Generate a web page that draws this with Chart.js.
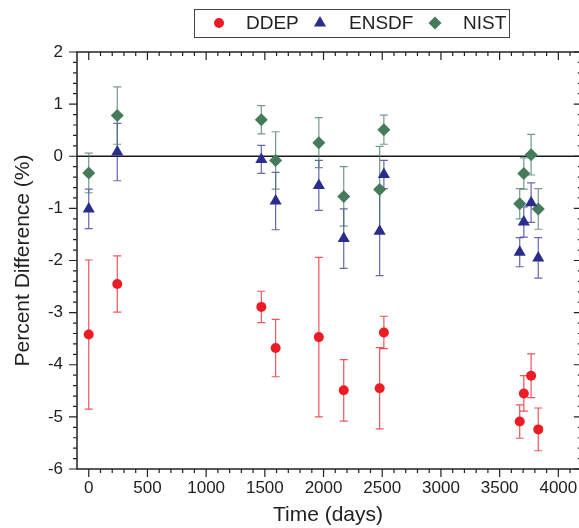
<!DOCTYPE html>
<html>
<head>
<meta charset="utf-8">
<script src="https://cdn.jsdelivr.net/npm/chart.js@4.4.1/dist/chart.umd.min.js"></script>
<style>
  html, body { margin: 0; padding: 0; background: #fff; overflow: hidden; }
  #contenedor { width: 579px; height: 528px; position: relative; }
</style>
</head>
<body>
<div id="contenedor"><canvas id="graficoDiferencia"></canvas></div>
<script>
// Datos
const dias = [0, 243, 1470, 1592, 1960, 2172, 2478, 2514, 3671, 3706, 3768, 3829];

const ddep = [-3.42, -2.45, -2.89, -3.68, -3.47, -4.49, -4.45, -3.38, -5.09, -4.55, -4.21, -5.24];
const ddepError = [1.43, 0.54, 0.30, 0.55, 1.53, 0.59, 0.78, 0.31, 0.32, 0.34, 0.42, 0.41];

const ensdf = [-1.01, 0.08, -0.06, -0.86, -0.56, -1.58, -1.44, -0.35, -1.84, -1.26, -0.89, -1.95];
const ensdfError = [0.38, 0.55, 0.27, 0.55, 0.48, 0.57, 0.85, 0.27, 0.28, 0.29, 0.38, 0.39];

const nist = [-0.32, 0.78, 0.70, -0.08, 0.26, -0.77, -0.64, 0.51, -0.91, -0.33, 0.03, -1.01];
const nistError = [0.38, 0.55, 0.27, 0.55, 0.48, 0.57, 0.83, 0.28, 0.29, 0.30, 0.39, 0.39];

const ticksX = [0, 500, 1000, 1500, 2000, 2500, 3000, 3500, 4000];
const ticksY = [-6, -5, -4, -3, -2, -1, 0, 1, 2];

// el eje x llega hasta 4200, pero la figura se corta un poco antes
const finEjeX = 4200;
const finVisibleX = 4176;

const fuente = "'Liberation Sans', Arial, sans-serif";
const colorEje = "#222222";

function puntos(valores) {
    return dias.map((d, i) => ({ x: d, y: valores[i] }));
}

// Ejes con marco, marcas menores, línea de cero, barras de error y leyenda con borde
const decoracion = {
    id: "decoracion",
    beforeDatasetsDraw(chart) {
        const { ctx, chartArea: a, scales: { x, y } } = chart;
        ctx.save();
        // línea de cero
        ctx.strokeStyle = "#1a1a1a";
        ctx.lineWidth = 1.5;
        const y0 = y.getPixelForValue(0);
        ctx.beginPath();
        ctx.moveTo(a.left, y0);
        ctx.lineTo(a.right, y0);
        ctx.stroke();

        // barras de error
        chart.data.datasets.forEach(ds => {
            ctx.strokeStyle = ds.colorError;
            ctx.lineWidth = 1.2;
            ds.data.forEach((p, j) => {
                const e = ds.errores[j];
                const px = x.getPixelForValue(p.x);
                const pt = y.getPixelForValue(p.y + e);
                const pb = y.getPixelForValue(p.y - e);
                ctx.beginPath();
                ctx.moveTo(px, pt);
                ctx.lineTo(px, pb);
                ctx.moveTo(px - 4, pt);
                ctx.lineTo(px + 4, pt);
                ctx.moveTo(px - 4, pb);
                ctx.lineTo(px + 4, pb);
                ctx.stroke();
            });
        });
        ctx.restore();
    },
    afterDraw(chart) {
        const { ctx, chartArea: a, scales: { x, y } } = chart;
        const derecha = x.getPixelForValue(finEjeX);
        ctx.save();
        ctx.strokeStyle = colorEje;
        ctx.lineWidth = 1.5;
        ctx.strokeRect(a.left, a.top, derecha - a.left, a.bottom - a.top);

        ctx.lineWidth = 1.2;
        ctx.beginPath();
        // marcas en x: abajo hacia afuera, arriba hacia adentro
        for (let v = 0; v <= finEjeX; v += 100) {
            const px = x.getPixelForValue(v);
            const largo = v % 500 === 0 ? 8 : 4;
            ctx.moveTo(px, a.bottom);
            ctx.lineTo(px, a.bottom + largo);
            ctx.moveTo(px, a.top);
            ctx.lineTo(px, a.top + largo);
        }
        // marcas en y: izquierda hacia afuera, derecha hacia adentro
        for (let k = -30; k <= 10; k++) {
            const py = y.getPixelForValue(k / 5);
            const largo = k % 5 === 0 ? 8 : 4;
            ctx.moveTo(a.left, py);
            ctx.lineTo(a.left - largo, py);
            ctx.moveTo(derecha, py);
            ctx.lineTo(derecha - largo, py);
        }
        ctx.stroke();

        // leyenda
        ctx.lineWidth = 1;
        ctx.strokeStyle = "#444444";
        ctx.strokeRect(194.5, 9.5, 315, 28);
        const posMarca = [219, 320, 435];
        const posTexto = [246, 349, 463];
        const yl = 23;
        ctx.font = "19px " + fuente;
        ctx.textBaseline = "middle";
        ctx.textAlign = "left";
        chart.data.datasets.forEach((ds, i) => {
            ctx.fillStyle = ds.backgroundColor;
            dibujarMarca(ctx, ds.pointStyle, posMarca[i], yl);
            ctx.fillStyle = "#222222";
            ctx.fillText(ds.label, posTexto[i], yl + 1);
        });
        ctx.restore();
    }
};

function dibujarMarca(ctx, estilo, cx, cy) {
    ctx.beginPath();
    if (estilo === "circle") {
        ctx.arc(cx, cy, 5, 0, Math.PI * 2);
    } else if (estilo === "triangle") {
        const r = 7;
        ctx.moveTo(cx, cy - r);
        ctx.lineTo(cx + r * Math.sin(2 * Math.PI / 3), cy - r * Math.cos(2 * Math.PI / 3));
        ctx.lineTo(cx + r * Math.sin(4 * Math.PI / 3), cy - r * Math.cos(4 * Math.PI / 3));
        ctx.closePath();
    } else {
        const r = 6.5;
        ctx.moveTo(cx, cy - r);
        ctx.lineTo(cx + r, cy);
        ctx.lineTo(cx, cy + r);
        ctx.lineTo(cx - r, cy);
        ctx.closePath();
    }
    ctx.fill();
}

new Chart(document.getElementById("graficoDiferencia"), {
    type: "scatter",
    data: {
        datasets: [{
            label: "DDEP",
            data: puntos(ddep),
            errores: ddepError,
            pointStyle: "circle",
            pointRadius: 5,
            backgroundColor: "#ed1c24",
            borderColor: "#ed1c24",
            borderWidth: 0,
            colorError: "rgba(236, 40, 50, 0.8)"
        }, {
            label: "ENSDF",
            data: puntos(ensdf),
            errores: ensdfError,
            pointStyle: "triangle",
            pointRadius: 7,
            backgroundColor: "#2b2d8e",
            borderColor: "#2b2d8e",
            borderWidth: 0,
            colorError: "rgba(50, 52, 150, 0.75)"
        }, {
            label: "NIST",
            data: puntos(nist),
            errores: nistError,
            pointStyle: "rectRot",
            pointRadius: 6.5,
            backgroundColor: "#457a5b",
            borderColor: "#457a5b",
            borderWidth: 0,
            colorError: "rgba(70, 122, 92, 0.75)"
        }]
    },
    options: {
        responsive: true,
        maintainAspectRatio: false,
        animation: false,
        layout: { autoPadding: false, padding: { left: 0, top: 52, right: 0, bottom: 0 } },
        plugins: {
            legend: { display: false },
            tooltip: { enabled: false }
        },
        scales: {
            x: {
                type: "linear",
                min: -100,
                max: finVisibleX,
                afterBuildTicks: scale => { scale.ticks = ticksX.map(v => ({ value: v })); },
                afterFit: scale => {
                    scale.height = 59;
                    scale.paddingLeft = 0;
                    scale.paddingRight = 0;
                },
                grid: { display: false, drawTicks: false },
                border: { display: false },
                ticks: {
                    padding: 9,
                    color: colorEje,
                    font: { family: fuente, size: 17 },
                    callback: v => String(v)
                },
                title: {
                    display: true,
                    text: "Time (days)",
                    color: colorEje,
                    font: { family: fuente, size: 21 },
                    padding: { top: 0, bottom: 0 }
                }
            },
            y: {
                min: -6,
                max: 2,
                afterBuildTicks: scale => { scale.ticks = ticksY.map(v => ({ value: v })); },
                afterFit: scale => {
                    scale.width = 77;
                    scale.paddingTop = 0;
                    scale.paddingBottom = 0;
                },
                grid: { display: false, drawTicks: false },
                border: { display: false },
                ticks: {
                    padding: 14,
                    color: colorEje,
                    font: { family: fuente, size: 17 },
                    callback: v => String(v)
                },
                title: {
                    display: true,
                    text: "Percent Difference (%)",
                    color: colorEje,
                    font: { family: fuente, size: 21 },
                    padding: { top: 11, bottom: 0 }
                }
            }
        }
    },
    plugins: [decoracion]
});
</script>
</body>
</html>
